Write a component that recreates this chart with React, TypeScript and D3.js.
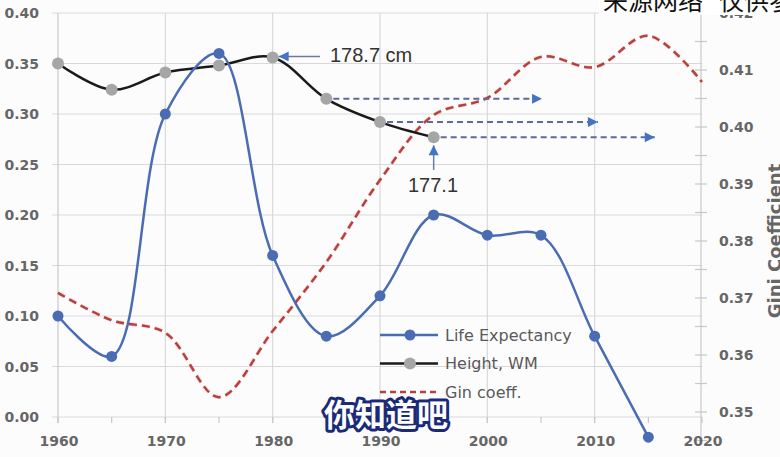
import React from 'react';
import * as d3 from 'd3';

const lifeYears = [1960, 1965, 1970, 1975, 1980, 1985, 1990, 1995, 2000, 2005, 2010, 2015];
const lifeExpectancy = [0.10, 0.06, 0.30, 0.36, 0.16, 0.08, 0.12, 0.20, 0.18, 0.18, 0.08, -0.02];
const heightYears = [1960, 1965, 1970, 1975, 1980, 1985, 1990, 1995];
const heightWM = [0.35, 0.324, 0.341, 0.348, 0.356, 0.315, 0.292, 0.277];
const giniYears = [1960, 1965, 1970, 1975, 1980, 1985, 1990, 1995, 2000, 2005, 2010, 2015, 2020];
const gini = [0.3709, 0.3661, 0.3639, 0.3526, 0.3642, 0.3763, 0.3907, 0.4021, 0.4051, 0.4123, 0.4105, 0.416, 0.4079];
const leftTicks = [0, 0.05, 0.1, 0.15, 0.2, 0.25, 0.3, 0.35, 0.4];
const rightTicks = [0.35, 0.36, 0.37, 0.38, 0.39, 0.4, 0.41, 0.42];
const xTicks = [1960, 1970, 1980, 1990, 2000, 2010, 2020];
const legendLabels = ['Life Expectancy', 'Height, WM', 'Gin coeff.'];
const annotTop = '178.7 cm';
const annotBottom = '177.1';
const arrowYearsFrom = [1985, 1990, 1995];
const arrowYearsTo = [2005.1, 2010.3, 2015.6];
const watermark = ['来源网络', '仅供参考'];
const subtitle = '你知道吧';

const BLUE = '#4a6cb3';
const RED = '#b5403d';
const GRID = '#d9d9d9';
const LABEL = '#666666';

export default function App() {
  const x = d3.scaleLinear().domain([1960, 2020]).range([58, 702]);
  const yL = d3.scaleLinear().domain([0, 0.4]).range([417, 13]);
  const yR = d3.scaleLinear().domain([0.35, 0.42]).range([412, 13]);
  const curve = d3.curveCatmullRom.alpha(0.5);

  const lifePts = lifeYears.map((yr, i) => [x(yr), yL(lifeExpectancy[i])] as [number, number]);
  const heightPts = heightYears.map((yr, i) => [x(yr), yL(heightWM[i])] as [number, number]);
  const giniPts = giniYears.map((yr, i) => [x(yr), yR(gini[i])] as [number, number]);
  const line = d3.line().curve(curve);

  const minorRight = d3.range(0.345, 0.4201, 0.005);
  const minorX = d3.range(1960, 2021, 5);

  const font = 'DejaVu Sans, sans-serif';

  return (
    <svg width={780} height={457} style={{ position: 'absolute', left: 0, top: 0, background: '#fdfcfd' }}>
      <defs>
        <marker id="ah" viewBox="0 0 10 10" refX="10" refY="5" markerWidth="12" markerHeight="10" markerUnits="userSpaceOnUse" orient="auto">
          <path d="M0,0 L10,5 L0,10 z" fill="#4472c4" />
        </marker>
      </defs>
      {/* grid */}
      {leftTicks.map((t) => (
        <line key={'h' + t} x1={52} x2={702} y1={yL(t)} y2={yL(t)} stroke={GRID} strokeWidth={1.2} />
      ))}
      {xTicks.slice(1, -1).map((t) => (
        <line key={'v' + t} x1={x(t)} x2={x(t)} y1={13} y2={423} stroke={GRID} strokeWidth={1.2} />
      ))}
      <line x1={58} x2={58} y1={13} y2={423} stroke="#c8c8c8" strokeWidth={1.2} />
      {minorX.map((t) => (
        <line key={'mx' + t} x1={x(t)} x2={x(t)} y1={417} y2={423} stroke="#c8c8c8" strokeWidth={1.2} />
      ))}
      {/* right axis */}
      <line x1={701} x2={701} y1={0} y2={445} stroke="#c8c8c8" strokeWidth={1.2} />
      {minorRight.map((t) => (
        <line key={'mr' + t} x1={695} x2={707} y1={yR(t)} y2={yR(t)} stroke="#c8c8c8" strokeWidth={1.2} />
      ))}
      {/* left labels */}
      {leftTicks.map((t) => (
        <text key={'ll' + t} x={39} y={yL(t)} dy="0.36em" textAnchor="end" fontFamily={font} fontWeight="bold" fontSize={14} fill={LABEL}>
          {t.toFixed(2)}
        </text>
      ))}
      {rightTicks.map((t) => (
        <text key={'rl' + t} x={719} y={yR(t)} dy="0.36em" textAnchor="start" fontFamily={font} fontWeight="bold" fontSize={14} fill={LABEL}>
          {t.toFixed(2)}
        </text>
      ))}
      {xTicks.map((t) => (
        <text key={'xl' + t} x={x(t) + 1} y={441} dy="0.36em" textAnchor="middle" fontFamily={font} fontWeight="bold" fontSize={14} fill={LABEL}>
          {t}
        </text>
      ))}
      <text transform="translate(781,241) rotate(-90)" textAnchor="middle" fontFamily={font} fontWeight="bold" fontSize={18} fill={LABEL}>
        Gini Coefficient
      </text>
      {/* series */}
      <path d={line(giniPts) || ''} fill="none" stroke="#f2a9a5" strokeWidth={3.6} strokeDasharray="8,5" opacity={0.6} />
      <path d={line(giniPts) || ''} fill="none" stroke={RED} strokeWidth={2.4} strokeDasharray="8,5" />
      <path d={line(heightPts) || ''} fill="none" stroke="#1a1a1a" strokeWidth={2.5} />
      <path d={line(lifePts) || ''} fill="none" stroke={BLUE} strokeWidth={2.5} />
      {heightPts.map((p, i) => (
        <circle key={'hp' + i} cx={p[0]} cy={p[1]} r={6} fill="#a6a6a6" />
      ))}
      {lifePts.map((p, i) => (
        <circle key={'lp' + i} cx={p[0]} cy={p[1]} r={5.5} fill={BLUE} />
      ))}
      {/* dashed arrows */}
      {arrowYearsFrom.map((yr, i) => {
        const idx = heightYears.indexOf(yr);
        const yy = yL(heightWM[idx]);
        return (
          <line key={'da' + i} x1={x(yr) + 7} x2={x(arrowYearsTo[i])} y1={yy} y2={yy} stroke="#5a6a9a" strokeWidth={2} strokeDasharray="6,4" markerEnd="url(#ah)" />
        );
      })}
      {/* annotations */}
      <line x1={320} x2={x(1980) + 6} y1={yL(0.356) - 1} y2={yL(0.356) - 1} stroke="#6a7aa8" strokeWidth={1.5} markerEnd="url(#ah)" />
      <text x={330} y={62} fontFamily="Liberation Sans, Arial, sans-serif" fontSize={20} fill="#333">
        {annotTop}
      </text>
      <line x1={x(1995)} x2={x(1995)} y1={170} y2={yL(0.277) + 8} stroke="#6a7aa8" strokeWidth={1.5} markerEnd="url(#ah)" />
      <text x={408} y={192} fontFamily="Liberation Sans, Arial, sans-serif" fontSize={20} fill="#333">
        {annotBottom}
      </text>
      {/* legend */}
      {legendLabels.map((lab, i) => {
        const yy = 335 + i * 28.5;
        return (
          <g key={'lg' + i}>
            {i === 0 && <line x1={380} x2={438} y1={yy} y2={yy} stroke={BLUE} strokeWidth={2.5} />}
            {i === 0 && <circle cx={410} cy={yy} r={5.5} fill={BLUE} />}
            {i === 1 && <line x1={380} x2={438} y1={yy} y2={yy} stroke="#1a1a1a" strokeWidth={2.5} />}
            {i === 1 && <circle cx={410} cy={yy} r={6} fill="#a6a6a6" />}
            {i === 2 && <line x1={380} x2={438} y1={yy} y2={yy} stroke={RED} strokeWidth={2.4} strokeDasharray="6,4" />}
            <text x={445} y={yy} dy="0.36em" fontFamily={font} fontSize={16} fill="#595959">
              {lab}
            </text>
          </g>
        );
      })}
      {/* watermark */}
      <rect x={599} y={0} width={181} height={15} fill="#ffffff" />
      <text x={603} y={10} fontFamily="Noto Sans CJK SC, sans-serif" fontSize={25} fill="#111">
        {watermark[0]}
      </text>
      <text x={719} y={10} fontFamily="Noto Sans CJK SC, sans-serif" fontSize={25} fill="#111">
        {watermark[1]}
      </text>
      {/* subtitle */}
      <text x={386} y={426} textAnchor="middle" fontFamily="Noto Sans CJK SC, sans-serif" fontWeight="bold" fontSize={31} fill="#ffffff" stroke="#1b2a78" strokeWidth={6} strokeLinejoin="round" style={{ paintOrder: 'stroke' }}>
        {subtitle}
      </text>
    </svg>
  );
}
